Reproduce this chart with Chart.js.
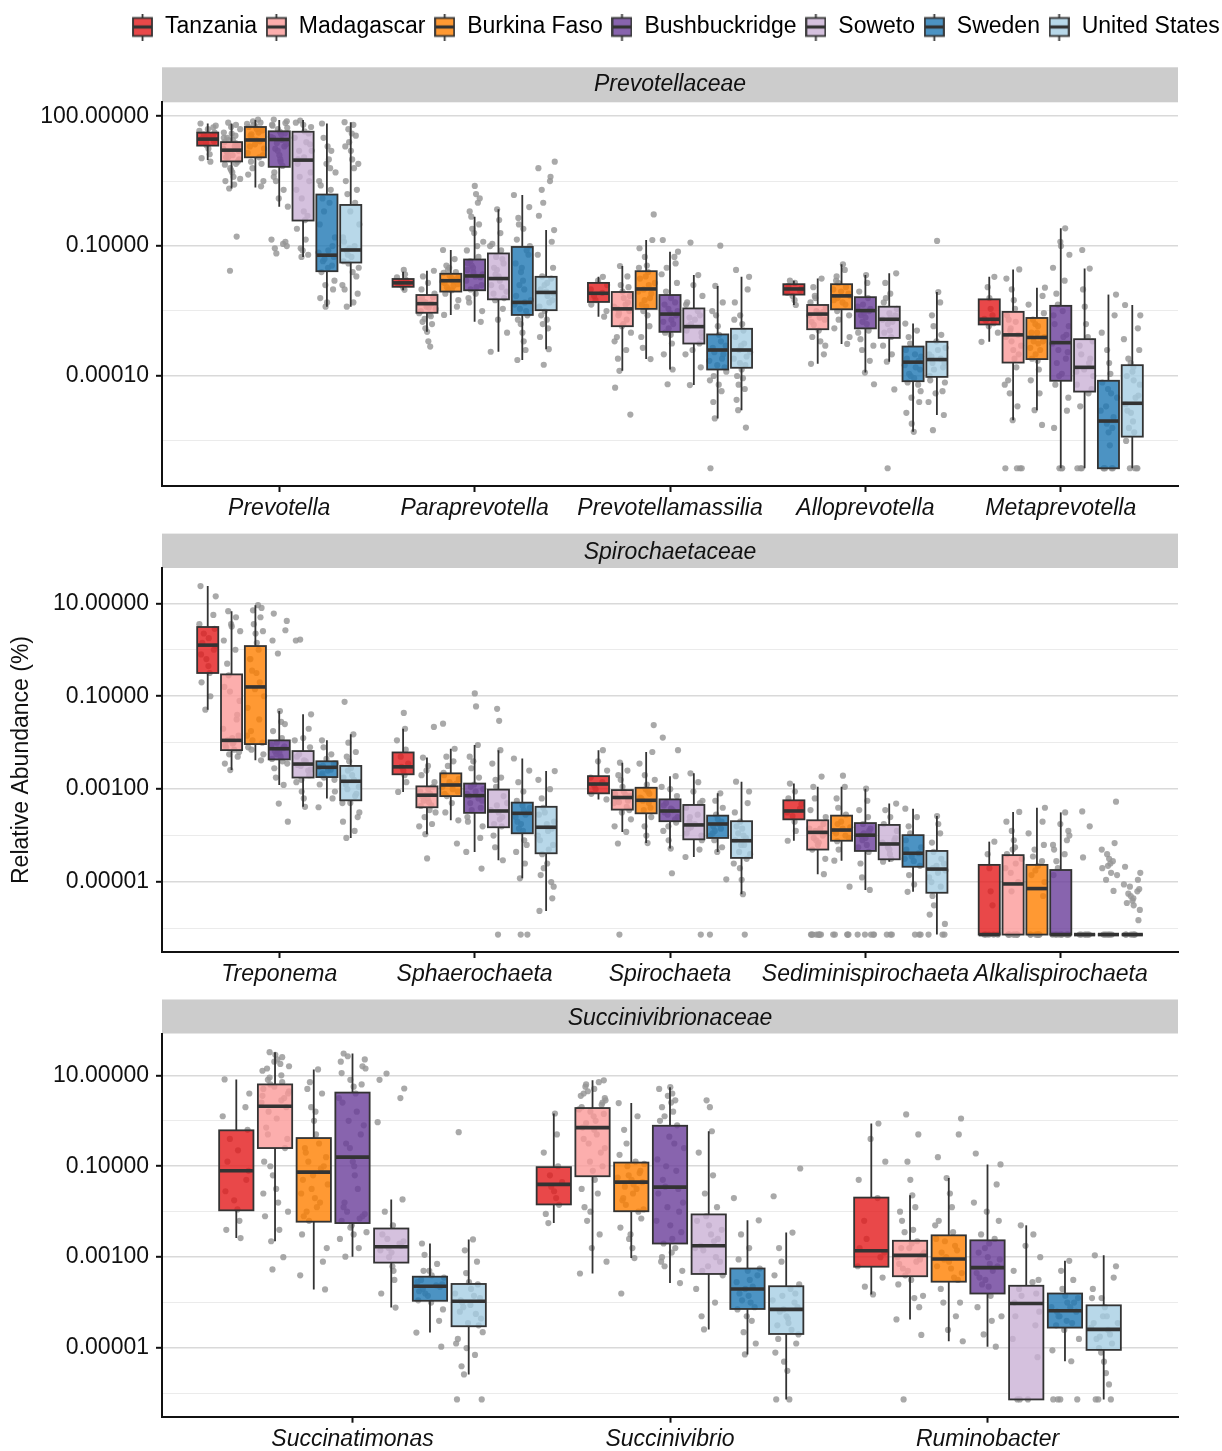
<!DOCTYPE html>
<html>
<head>
<meta charset="utf-8">
<script src="https://cdn.jsdelivr.net/npm/chart.js@4.4.1/dist/chart.umd.min.js"></script>
<style>
  html, body { margin: 0; padding: 0; background: #fff; width: 1222px; height: 1451px; overflow: hidden; position: relative; }
  canvas { position: absolute; left: 0; }
</style>
</head>
<body>
<canvas id="prevChart" width="1228" height="527" style="top:0px"></canvas>
<canvas id="spiroChart" width="1222" height="466" style="top:527px"></canvas>
<canvas id="succChart" width="1222" height="458" style="top:993px"></canvas>
<script>
// ---- groups and colours ----
const COUNTRIES = ['Tanzania', 'Madagascar', 'Burkina Faso', 'Bushbuckridge', 'Soweto', 'Sweden', 'United States'];
const COLORS = ['#E31A1C', '#FB9A99', '#FF7F00', '#6A3D9A', '#CAB2D6', '#1F78B4', '#A6CEE3'];

// All abundances below are log10 of relative abundance (%).
// Z is the pseudocount level used for samples where the genus was absent.
const Z = -6.13;

// ---- Prevotellaceae ----
const prevGenera = ['Prevotella', 'Paraprevotella', 'Prevotellamassilia', 'Alloprevotella', 'Metaprevotella'];
const prevLo = [
  [0.99, 0.33, 0.35, -0.09, -1.25, -2.40, -2.40],
  [-2.02, -2.98, -2.59, -2.75, -3.44, -3.63, -3.38],
  [-2.63, -3.88, -3.61, -3.85, -4.21, -4.98, -4.79],
  [-2.36, -3.72, -3.26, -3.92, -3.67, -5.29, -4.90],
  [-3.21, -5.02, -4.79, Z, Z, Z, Z]
];
const prevQ1 = [
  [1.32, 0.955, 1.05, 0.83, -0.41, -1.58, -1.38],
  [-1.94, -2.54, -2.05, -2.02, -2.23, -2.59, -2.48],
  [-2.29, -2.85, -2.45, -2.98, -3.25, -3.85, -3.81],
  [-2.12, -2.92, -2.46, -2.90, -3.12, -4.12, -4.02],
  [-2.81, -3.69, -3.61, -4.11, -4.36, Z, -5.40]
];
const prevMed = [
  [1.47, 1.215, 1.45, 1.46, 0.985, -1.21, -1.09],
  [-1.85, -2.33, -1.80, -1.69, -1.75, -2.30, -2.07],
  [-2.09, -2.45, -1.99, -2.57, -2.86, -3.40, -3.40],
  [-1.99, -2.57, -2.15, -2.49, -2.69, -3.68, -3.62],
  [-2.69, -3.05, -3.11, -3.23, -3.80, -5.04, -4.63]
];
const prevQ3 = [
  [1.62, 1.40, 1.75, 1.65, 1.64, 0.19, -0.05],
  [-1.76, -2.13, -1.64, -1.31, -1.17, -1.02, -1.71],
  [-1.85, -2.06, -1.58, -2.13, -2.44, -3.04, -2.91],
  [-1.88, -2.36, -1.88, -2.18, -2.40, -3.32, -3.21],
  [-2.23, -2.52, -2.66, -2.38, -3.15, -4.11, -3.75]
];
const prevHi = [
  [1.83, 1.83, 1.91, 1.91, 1.91, 1.83, 1.86],
  [-1.59, -1.57, -1.09, -0.32, -0.15, 0.18, -0.63],
  [-1.71, -1.46, -0.86, -1.13, -1.67, -1.92, -1.71],
  [-1.80, -1.75, -1.42, -1.67, -1.63, -2.79, -2.06],
  [-1.71, -1.54, -1.96, -0.59, -1.52, -2.12, -2.36]
];
const prevPts = [
  [
    [1.83, 1.78, 1.74, 1.66, 1.62, 1.58, 1.53, 1.49, 1.46, 1.42, 1.38, 1.33, 1.25, 1.12, 1.03, 0.95, 1.5, 1.56, 1.4, 1.7],
    [1.85, 1.8, 1.75, 1.7, 1.62, 1.55, 1.5, 1.45, 1.4, 1.35, 1.3, 1.25, 1.2, 1.15, 1.1, 1.05, 1.0, 0.95, 0.88, 0.8, 0.7, 0.6, 0.5, 0.42, 0.33, -0.78, -1.57, 1.6, 1.45, 1.3, 1.18, 1.05, 0.9, 0.75, 0.55, 1.5, 1.38],
    [1.92, 1.88, 1.85, 1.8, 1.76, 1.7, 1.62, 1.55, 1.48, 1.42, 1.35, 1.25, 1.15, 1.05, 0.95, 0.8, 0.65, 0.5, 0.38, 1.82, 1.67, 1.58, 1.45, 1.3, 1.1, 0.9, 1.75],
    [1.92, 1.88, 1.84, 1.78, 1.7, 1.64, 1.58, 1.5, 1.45, 1.38, 1.3, 1.2, 1.1, 0.95, 0.85, 0.7, 0.5, 0.3, 0.1, -0.09, -0.85, -0.95, -1.05, -1.17, 1.8, 1.73, 1.6, 1.52, 1.35, 1.25, 1.0, 0.6, -1.0, -0.9],
    [1.9, 1.85, 1.75, 1.6, 1.5, 1.35, 1.2, 1.05, 0.9, 0.7, 0.5, 0.3, 0.1, -0.2, -0.4, -0.6, -0.85, -1.05, -1.2, -1.25, 1.8, 1.65, 1.4, 1.0, 0.6, -0.3, -1.1, 1.2],
    [1.83, 1.5, 1.2, 0.9, 0.7, 0.5, 0.3, 0.1, -0.2, -0.5, -0.8, -1.0, -1.15, -1.25, -1.35, -1.5, -1.6, -1.8, -2.0, -2.2, -2.4, 1.3, 1.0, 0.4, 0.0, -1.3, -1.45, -1.9, -2.3, -1.1, 0.8],
    [1.86, 1.8, 1.7, 1.55, 1.4, 1.2, 1.0, 0.8, 0.5, 0.2, 0.0, -0.2, -0.5, -0.8, -1.0, -1.1, -1.2, -1.35, -1.5, -1.7, -1.9, -2.1, -2.4, 1.6, 1.3, 0.9, 0.3, -0.9, -1.05, -1.25, -1.6, -2.0, -2.3, -1.4]
  ],
  [
    [-1.55, -1.65, -1.72, -1.78, -1.83, -1.86, -1.9, -1.96, -2.01, -1.8, -1.88],
    [-1.57, -1.7, -1.85, -2.0, -2.1, -2.18, -2.25, -2.3, -2.36, -2.42, -2.5, -2.58, -2.68, -2.8, -2.9, -2.98, -3.2, -3.32, -2.2, -2.28, -2.33, -2.4, -2.45, -2.55, -2.62, -2.75],
    [-1.09, -1.3, -1.45, -1.55, -1.62, -1.7, -1.76, -1.82, -1.88, -1.95, -2.02, -2.1, -2.25, -2.4, -2.59, -1.68, -1.74, -1.8, -1.85, -1.92, -2.0, -1.6, -1.5],
    [0.39, 0.2, 0.0, -0.2, -0.32, -0.5, -0.7, -0.9, -1.1, -1.25, -1.35, -1.45, -1.55, -1.65, -1.72, -1.8, -1.9, -2.0, -2.1, -2.3, -2.5, -2.75, -1.4, -1.6, -1.7, -1.95, -2.2, -1.0, -0.6, 0.1, -1.5],
    [-0.15, -0.4, -0.7, -0.95, -1.1, -1.25, -1.4, -1.55, -1.7, -1.8, -1.95, -2.1, -2.25, -2.45, -2.7, -3.0, -3.44, -1.3, -1.5, -1.65, -1.9, -2.05, -2.2, -1.0],
    [0.18, -0.1, -0.35, -0.6, -0.85, -1.0, -1.2, -1.4, -1.6, -1.8, -2.0, -2.15, -2.3, -2.45, -2.6, -2.8, -3.0, -3.2, -3.4, -3.63, -0.5, -1.1, -1.5, -2.25, -2.35, -2.5, -2.7, -1.9],
    [0.95, 0.8, 0.5, 0.3, 0.0, -0.3, -0.63, -0.9, -1.2, -1.5, -1.7, -1.85, -2.0, -2.1, -2.25, -2.4, -2.5, -2.7, -2.9, -3.1, -3.38, -3.74, -1.75, -1.9, -2.05, -2.15, -2.3, -2.6, -2.8, 0.6]
  ],
  [
    [-1.71, -1.8, -1.9, -2.0, -2.08, -2.15, -2.25, -2.35, -2.5, -2.63],
    [-1.46, -1.7, -1.9, -2.05, -2.2, -2.35, -2.45, -2.55, -2.7, -2.85, -3.0, -3.2, -3.4, -3.6, -3.88, -4.27, -4.89, -2.3, -2.4, -2.5, -2.6, -2.8, -3.1, -2.15, -1.95],
    [-0.27, -0.86, -1.05, -1.25, -1.45, -1.6, -1.75, -1.9, -2.0, -2.1, -2.25, -2.4, -2.6, -2.85, -3.1, -3.35, -3.61, -1.7, -1.85, -2.05, -2.2, -2.35, -2.5, -1.5],
    [-0.86, -1.13, -1.4, -1.65, -1.85, -2.05, -2.2, -2.35, -2.5, -2.6, -2.75, -2.9, -3.05, -3.25, -3.5, -3.85, -4.19, -2.3, -2.45, -2.55, -2.7, -2.8, -3.0, -1.5, -1.25],
    [-0.92, -1.67, -1.9, -2.15, -2.35, -2.5, -2.65, -2.8, -2.95, -3.1, -3.25, -3.5, -3.8, -4.21, -2.7, -2.85, -3.0, -2.6, -2.3, -3.4],
    [-0.99, -1.92, -2.3, -2.6, -2.85, -3.05, -3.2, -3.35, -3.45, -3.6, -3.75, -3.9, -4.1, -4.35, -4.6, -4.98, Z, -3.3, -3.5, -3.65, -3.8, -4.0, -4.2, -2.5],
    [-1.55, -1.71, -2.0, -2.3, -2.6, -2.8, -2.95, -3.1, -3.25, -3.4, -3.55, -3.7, -3.85, -4.05, -4.3, -4.55, -4.79, -5.19, -3.3, -3.45, -3.6, -3.75, -4.0, -4.2, -2.7]
  ],
  [
    [-1.8, -1.85, -1.92, -1.98, -2.03, -2.08, -2.15, -2.25, -2.36],
    [-1.75, -1.95, -2.15, -2.3, -2.42, -2.52, -2.6, -2.7, -2.82, -2.95, -3.1, -3.3, -3.5, -3.72, -2.5, -2.55, -2.65, -2.75, -3.2, -2.2],
    [-1.42, -1.55, -1.7, -1.85, -1.95, -2.05, -2.15, -2.25, -2.35, -2.5, -2.7, -2.9, -3.1, -3.26, -2.0, -2.1, -2.2, -2.3, -1.8, -2.6],
    [-1.67, -1.85, -2.05, -2.2, -2.35, -2.45, -2.55, -2.65, -2.8, -2.95, -3.15, -3.4, -3.65, -3.92, -4.19, -2.4, -2.5, -2.6, -2.75, -3.0, -3.3],
    [-1.63, -1.85, -2.1, -2.3, -2.45, -2.6, -2.7, -2.8, -2.95, -3.1, -3.3, -3.5, -3.67, -4.31, Z, -2.55, -2.65, -2.75, -3.0, -2.2],
    [-2.79, -2.95, -3.1, -3.25, -3.4, -3.55, -3.65, -3.75, -3.85, -3.95, -4.05, -4.15, -4.35, -4.6, -4.85, -5.1, -5.29, -3.5, -3.6, -3.8, -4.0, -4.2, -4.5],
    [-0.88, -2.06, -2.3, -2.6, -2.85, -3.05, -3.2, -3.35, -3.5, -3.6, -3.7, -3.85, -4.0, -4.15, -4.35, -4.6, -4.9, -5.25, -3.4, -3.55, -3.7, -3.8, -4.1, -4.4]
  ],
  [
    [-1.71, -1.95, -2.2, -2.45, -2.6, -2.68, -2.72, -2.78, -2.85, -3.0, -3.21],
    [-1.54, -1.75, -2.0, -2.25, -2.45, -2.6, -2.75, -2.9, -3.05, -3.2, -3.4, -3.6, -3.8, -4.1, -4.4, -4.7, -5.02, Z, Z, Z, -2.7, -2.95, -3.1, -3.3, -3.5, -4.2, Z],
    [-1.96, -2.15, -2.35, -2.55, -2.7, -2.85, -3.0, -3.1, -3.2, -3.35, -3.5, -3.65, -3.85, -4.1, -4.4, -4.79, -5.13, -2.8, -3.0, -3.25, -3.4, -3.6, -3.2],
    [-0.59, -0.9, -1.2, -1.5, -1.8, -2.1, -2.35, -2.6, -2.85, -3.05, -3.25, -3.45, -3.7, -3.95, -4.2, -4.5, -4.8, -5.2, Z, Z, -2.5, -2.8, -3.1, -3.4, -3.6, -4.0, -1.0, Z],
    [-1.09, -1.52, -2.0, -2.4, -2.8, -3.1, -3.3, -3.5, -3.7, -3.85, -4.0, -4.2, -4.4, -4.7, Z, Z, -3.2, -3.6, -3.9, -4.3, Z],
    [-2.12, -2.6, -3.0, -3.4, -3.7, -3.95, -4.15, -4.4, -4.7, -4.95, -5.1, -5.3, -5.6, Z, Z, Z, Z, -4.3, -4.5, -4.8, -5.2, Z],
    [-2.36, -2.6, -2.9, -3.15, -3.4, -3.6, -3.8, -4.0, -4.2, -4.45, -4.65, -4.85, -5.05, -5.3, -5.5, Z, Z, Z, -3.7, -3.9, -4.1, -4.5, -4.8, -5.2, Z]
  ]
];

// ---- Spirochaetaceae ----
const spiroGenera = ['Treponema', 'Sphaerochaeta', 'Spirochaeta', 'Sediminispirochaeta', 'Alkalispirochaeta'];
const spiroLo = [
  [-1.29, -2.59, -2.38, -2.91, -3.38, -3.20, -4.05],
  [-3.06, -3.97, -3.67, -4.35, -4.53, -4.92, -5.62],
  [-3.22, -3.92, -4.16, -4.28, -4.46, -4.35, -5.26],
  [-4.11, -4.83, -4.54, -5.17, -4.56, -5.21, Z],
  [Z, Z, Z, Z, Z, Z, Z]
];
const spiroQ1 = [
  [-0.50, -2.16, -2.03, -2.36, -2.75, -2.74, -3.24],
  [-2.68, -3.39, -3.15, -3.51, -3.82, -3.95, -4.38],
  [-3.09, -3.44, -3.52, -3.69, -4.08, -4.05, -4.48],
  [-3.65, -4.30, -4.11, -4.33, -4.51, -4.67, -5.23],
  [Z, Z, Z, Z, Z, Z, Z]
];
const spiroMed = [
  [0.10, -1.95, -0.80, -2.13, -2.46, -2.53, -2.83],
  [-2.52, -3.13, -2.91, -3.14, -3.47, -3.52, -3.82],
  [-2.89, -3.18, -3.24, -3.47, -3.77, -3.75, -4.11],
  [-3.47, -3.93, -3.88, -3.99, -4.18, -4.38, -4.72],
  [Z, -5.04, -5.14, Z, Z, Z, Z]
];
const spiroQ3 = [
  [0.49, -0.53, 0.08, -1.95, -2.18, -2.40, -2.50],
  [-2.21, -2.94, -2.66, -2.88, -3.01, -3.29, -3.38],
  [-2.72, -3.02, -2.97, -3.22, -3.34, -3.57, -3.69],
  [-3.24, -3.67, -3.57, -3.73, -3.77, -3.99, -4.33],
  [-4.63, -4.42, -4.63, -4.74, Z, Z, Z]
];
const spiroHi = [
  [1.37, 0.83, 0.96, -1.32, -1.39, -1.95, -1.82],
  [-1.70, -2.32, -2.13, -2.05, -2.16, -2.34, -2.61],
  [-2.16, -2.43, -2.20, -2.72, -2.66, -3.09, -2.84],
  [-2.88, -2.95, -2.95, -2.99, -3.31, -3.42, -3.58],
  [-4.13, -3.49, -3.40, -3.50, Z, Z, Z]
];
const spiroPts = [
  [
    [1.37, 1.15, 0.75, 0.55, 0.45, 0.35, 0.25, 0.15, 0.08, 0.0, -0.1, -0.2, -0.35, -0.5, -0.7, -1.0, -1.29],
    [0.83, 0.7, 0.55, 0.4, 0.2, 0.0, -0.3, -0.55, -0.8, -1.1, -1.4, -1.7, -1.85, -1.95, -2.02, -2.1, -2.2, -2.3, -2.45, -2.59, -1.9, -2.0, -2.05, -2.15, -2.25, -1.5, -0.9, 0.5],
    [0.96, 0.85, 0.7, 0.55, 0.35, 0.15, 0.0, -0.2, -0.45, -0.7, -0.85, -1.0, -1.25, -1.5, -1.75, -1.95, -2.1, -2.25, -2.38, -1.85, -2.0, -2.15, -0.5, -0.2, 0.4, 0.9],
    [0.78, 0.62, 0.42, 0.2, -0.08, -1.32, -1.55, -1.75, -1.9, -2.0, -2.08, -2.15, -2.22, -2.3, -2.4, -2.55, -2.75, -2.91, -3.31, -3.7, -2.05, -2.12, -2.18, -2.25, -2.35, -2.45, -1.6],
    [0.22, 0.2, -1.39, -1.7, -1.95, -2.1, -2.25, -2.38, -2.48, -2.58, -2.7, -2.85, -3.05, -3.2, -3.38, -2.3, -2.4, -2.5, -2.6, -2.8, -1.9],
    [-1.95, -2.1, -2.25, -2.35, -2.45, -2.52, -2.58, -2.66, -2.75, -2.9, -3.05, -3.2, -3.39, -2.45, -2.5, -2.6, -2.7, -2.8],
    [-1.12, -1.82, -2.0, -2.2, -2.4, -2.55, -2.7, -2.8, -2.9, -3.0, -3.15, -3.3, -3.5, -3.7, -3.9, -4.05, -2.6, -2.75, -2.95, -3.1, -3.3, -3.6, -2.3]
  ],
  [
    [-1.36, -1.7, -1.95, -2.15, -2.3, -2.45, -2.52, -2.6, -2.7, -2.85, -3.06],
    [-1.66, -2.32, -2.5, -2.7, -2.85, -2.95, -3.05, -3.12, -3.2, -3.28, -3.36, -3.45, -3.6, -3.75, -3.97, -4.49, -3.0, -3.1, -3.15, -3.25, -3.35, -2.6, -3.5, -3.8],
    [-1.59, -2.13, -2.3, -2.5, -2.65, -2.78, -2.88, -2.95, -3.05, -3.15, -3.3, -3.5, -3.67, -4.17, -2.7, -2.85, -2.9, -3.0, -3.1, -2.4],
    [-0.94, -1.22, -2.05, -2.3, -2.55, -2.75, -2.9, -3.0, -3.1, -3.2, -3.3, -3.45, -3.6, -3.8, -4.05, -4.35, -4.71, -2.95, -3.05, -3.15, -3.25, -3.4, -3.7, -2.4],
    [-1.27, -1.53, -2.16, -2.45, -2.75, -2.95, -3.15, -3.35, -3.5, -3.65, -3.8, -4.0, -4.25, -4.53, Z, -3.3, -3.45, -3.6, -3.75, -2.8],
    [-2.34, -2.6, -2.85, -3.05, -3.25, -3.4, -3.5, -3.6, -3.75, -3.9, -4.1, -4.35, -4.6, -4.92, Z, Z, -3.35, -3.45, -3.55, -3.7, -3.85, -4.2],
    [-2.61, -2.8, -3.0, -3.2, -3.4, -3.55, -3.7, -3.85, -4.0, -4.2, -4.4, -4.6, -4.85, -5.1, -5.35, -5.62, -3.5, -3.75, -3.9, -4.1, -4.3, -4.7, -5.0]
  ],
  [
    [-2.16, -2.4, -2.6, -2.75, -2.85, -2.92, -3.0, -3.1, -3.22],
    [-2.43, -2.6, -2.8, -2.95, -3.05, -3.12, -3.2, -3.28, -3.38, -3.5, -3.65, -3.8, -3.92, -4.17, Z, -3.1, -3.15, -3.25, -3.3, -3.45, -2.7],
    [-1.62, -2.2, -2.45, -2.7, -2.9, -3.05, -3.18, -3.3, -3.45, -3.6, -3.8, -4.0, -4.16, -3.1, -3.2, -3.25, -3.4, -3.0, -2.8],
    [-1.89, -2.16, -2.72, -2.95, -3.15, -3.3, -3.42, -3.5, -3.6, -3.72, -3.9, -4.1, -4.28, -4.81, -3.35, -3.45, -3.55, -3.65, -3.8, -3.0],
    [-2.66, -2.85, -3.05, -3.25, -3.4, -3.55, -3.7, -3.82, -3.95, -4.1, -4.3, -4.46, Z, -3.6, -3.75, -3.85, -4.0, -3.3],
    [-3.09, -3.25, -3.4, -3.55, -3.65, -3.75, -3.85, -3.95, -4.1, -4.25, -4.35, -4.94, Z, -3.7, -3.8, -3.9, -4.0],
    [-2.84, -3.05, -3.3, -3.5, -3.7, -3.85, -4.0, -4.1, -4.2, -4.35, -4.5, -4.7, -4.95, -5.26, Z, -3.8, -3.95, -4.05, -4.2, -4.4, -4.6]
  ],
  [
    [-2.88, -3.05, -3.2, -3.32, -3.42, -3.5, -3.58, -3.7, -3.9, -4.11],
    [-2.73, -2.95, -3.2, -3.45, -3.6, -3.75, -3.85, -3.95, -4.05, -4.15, -4.3, -4.5, -4.83, Z, Z, Z, Z, Z, -3.85, -3.9, -4.0, -4.1, -4.2, Z, Z, Z],
    [-2.71, -2.95, -3.2, -3.4, -3.55, -3.7, -3.82, -3.9, -4.0, -4.12, -4.3, -4.54, -5.1, Z, Z, Z, -3.75, -3.85, -3.95, -4.05, Z, Z],
    [-2.99, -3.25, -3.45, -3.6, -3.75, -3.85, -3.95, -4.05, -4.2, -4.35, -4.6, -4.9, -5.17, Z, Z, Z, -3.9, -4.0, -4.1, -4.25, Z, Z],
    [-3.31, -3.45, -3.6, -3.75, -3.9, -4.05, -4.15, -4.25, -4.4, -4.5, -4.56, Z, Z, -4.1, -4.2, -4.3, Z],
    [-3.42, -3.6, -3.8, -3.95, -4.1, -4.25, -4.38, -4.5, -4.65, -4.85, -5.05, -5.21, Z, Z, -4.3, -4.45, -4.55, Z],
    [-3.58, -3.75, -3.95, -4.15, -4.35, -4.5, -4.65, -4.75, -4.9, -5.1, -5.3, -5.5, -5.7, -5.9, Z, Z, -4.6, -4.7, -4.8, -5.0, Z]
  ],
  [
    [-4.13, -4.4, -4.7, -5.2, -5.5, Z, Z, Z, Z, Z],
    [-3.49, -3.7, -3.9, -4.1, -4.25, -4.4, -4.6, -4.8, -5.0, -5.2, Z, Z, Z, Z, Z, Z, -4.3, -4.5, -4.7, Z, Z],
    [-3.4, -3.7, -3.95, -4.2, -4.45, -4.65, -4.85, -5.0, -5.3, Z, Z, Z, Z, Z, Z, -4.3, -4.55, -4.75, Z, Z],
    [-3.5, -3.75, -4.0, -4.2, -4.4, -4.55, -4.7, -4.85, Z, Z, Z, Z, Z, Z, Z, -3.9, -4.1, -4.3, Z, Z],
    [-3.48, -3.8, -4.47, Z, Z, Z, Z, Z, Z],
    [-3.27, -4.16, -4.3, -4.4, -4.5, -4.6, -4.7, -4.8, -4.95, -5.19, Z, Z, Z, Z, Z, Z, -4.55, -4.65, -4.85],
    [-4.67, -4.8, -4.95, -5.05, -5.15, -5.25, -5.35, -5.45, -5.6, -5.82, Z, Z, Z, Z, Z, Z, -5.1, -5.2, -5.3, -5.4, -5.5]
  ]
];

// ---- Succinivibrionaceae ----
const succGenera = ['Succinatimonas', 'Succinivibrio', 'Ruminobacter'];
const succLo = [
  [-2.58, -2.65, -3.71, -2.99, -4.11, -4.66, -5.58],
  [-2.25, -3.36, -3.02, -3.57, -4.59, -5.14, Z],
  [-3.82, -4.37, -4.85, -4.97, Z, -5.29, Z]
];
const succQ1 = [
  [-1.97, -0.60, -2.22, -2.25, -3.12, -3.96, -4.52],
  [-1.84, -1.22, -1.99, -2.70, -3.37, -4.14, -4.69],
  [-3.21, -3.42, -3.54, -3.80, Z, -4.55, -5.04]
];
const succMed = [
  [-1.10, 0.32, -1.13, -0.80, -2.77, -3.64, -3.97],
  [-1.40, -0.15, -1.35, -1.46, -2.75, -3.70, -4.15],
  [-2.86, -2.96, -3.04, -3.23, -4.02, -4.18, -4.59]
];
const succQ3 = [
  [-0.21, 0.80, -0.38, 0.62, -2.37, -3.43, -3.59],
  [-1.02, 0.28, -0.92, -0.11, -2.06, -3.25, -3.64],
  [-1.69, -2.64, -2.52, -2.63, -3.63, -3.80, -4.06]
];
const succHi = [
  [0.91, 1.51, 1.13, 1.48, -1.73, -2.70, -2.61],
  [0.16, 0.89, 0.39, 0.74, -0.23, -2.19, -2.46],
  [-0.06, -1.64, -1.26, -0.96, -2.30, -3.08, -2.96]
];
const succPts = [
  [
    [0.91, 0.6, 0.3, 0.1, -0.2, -0.4, -0.65, -0.9, -1.1, -1.3, -1.55, -1.75, -1.95, -2.2, -2.4, -2.58],
    [1.51, 1.4, 1.3, 1.2, 1.1, 1.0, 0.9, 0.8, 0.7, 0.6, 0.5, 0.4, 0.3, 0.2, 0.05, -0.15, -0.4, -0.6, -0.9, -1.2, -1.5, -1.8, -2.1, -2.4, -2.65, -3.0, -3.27, 1.45, 1.35, 1.25, 1.15, 0.95, 0.85, 0.75, 0.65, 0.55, 0.45, -0.3, -1.0, -1.6, -2.0],
    [1.13, 0.85, 0.6, 0.3, 0.0, -0.3, -0.5, -0.7, -0.9, -1.05, -1.2, -1.4, -1.6, -1.8, -2.0, -2.2, -2.5, -2.8, -3.1, -3.4, -3.71, 0.7, 0.2, -0.6, -0.8, -1.0, -1.3, -1.5, -1.7, -1.9, -2.1],
    [1.48, 1.35, 1.2, 1.05, 0.9, 0.75, 0.6, 0.4, 0.2, 0.0, -0.3, -0.6, -0.9, -1.2, -1.5, -1.8, -2.0, -2.15, -2.3, -2.45, -2.6, -2.8, -2.99, 1.42, 1.3, 1.15, 0.8, 0.5, -0.1, -0.5, -1.0, -1.9, -2.05, -2.1, -2.2, -2.35, -2.5],
    [1.04, 0.9, 0.71, 0.5, -0.03, -1.73, -2.0, -2.3, -2.5, -2.65, -2.75, -2.85, -3.0, -3.2, -3.5, -3.8, -4.11, -2.6, -2.7, -2.8, -2.9, -3.3],
    [-2.7, -2.95, -3.15, -3.3, -3.45, -3.55, -3.62, -3.7, -3.8, -3.95, -4.15, -4.4, -4.66, -4.97, -3.3, -3.4, -3.5, -3.6, -3.65, -3.75, -3.85, -4.0],
    [-0.25, -2.61, -2.85, -3.1, -3.35, -3.55, -3.7, -3.85, -3.95, -4.1, -4.25, -4.45, -4.65, -4.9, -5.15, -5.4, -5.58, Z, Z, -3.6, -3.8, -3.9, -4.0, -4.05, -4.2, -4.35, -4.5, -4.8, -5.0]
  ],
  [
    [0.16, -0.3, -0.7, -1.0, -1.2, -1.35, -1.45, -1.55, -1.7, -1.85, -2.05, -2.25],
    [0.89, 0.8, 0.7, 0.6, 0.5, 0.4, 0.3, 0.2, 0.1, 0.0, -0.15, -0.3, -0.5, -0.7, -0.9, -1.1, -1.3, -1.6, -1.9, -2.2, -2.5, -2.8, -3.1, -3.36, 0.85, 0.75, 0.65, 0.55, 0.45, 0.35, 0.25, 0.15, -0.05, -0.2, -0.4, -0.6, -1.0, -1.5, -2.0],
    [0.39, 0.1, -0.2, -0.5, -0.75, -0.95, -1.1, -1.25, -1.35, -1.45, -1.6, -1.75, -1.95, -2.15, -2.35, -2.6, -2.8, -3.02, -3.8, -0.9, -1.0, -1.15, -1.2, -1.3, -1.4, -1.5, -1.7, -1.85, -2.0, -2.5],
    [0.74, 0.6, 0.45, 0.3, 0.1, -0.1, -0.35, -0.6, -0.85, -1.1, -1.3, -1.45, -1.6, -1.8, -2.0, -2.2, -2.45, -2.7, -2.9, -3.1, -3.3, -3.57, 0.7, 0.55, 0.4, 0.2, 0.0, -0.5, -1.0, -1.5, -1.9, -2.3, -2.6, -2.8, -3.0, -3.2],
    [0.45, 0.3, -0.23, -0.7, -1.2, -1.6, -1.9, -2.1, -2.3, -2.5, -2.65, -2.75, -2.85, -3.0, -3.2, -3.4, -3.7, -4.0, -4.3, -4.59, -2.2, -2.4, -2.6, -2.8, -3.1, -3.3],
    [-1.7, -2.19, -2.5, -2.8, -3.05, -3.25, -3.4, -3.55, -3.7, -3.85, -4.0, -4.15, -4.4, -4.65, -4.9, -5.14, -3.3, -3.5, -3.65, -3.8, -3.95, -4.1, -4.3],
    [-1.05, -1.66, -2.46, -2.8, -3.1, -3.4, -3.6, -3.8, -3.95, -4.1, -4.2, -4.35, -4.5, -4.7, -4.9, -5.1, -5.3, -5.5, Z, Z, -3.7, -3.85, -4.0, -4.15, -4.3, -4.45, -4.6, -4.8]
  ],
  [
    [-0.06, -0.4, -0.9, -1.3, -1.7, -2.2, -2.6, -2.8, -2.9, -3.0, -3.2, -3.45, -3.65, -3.82],
    [0.14, -0.3, -0.9, -1.3, -1.64, -1.9, -2.2, -2.45, -2.65, -2.8, -2.9, -3.0, -3.1, -3.25, -3.4, -3.6, -3.85, -4.1, -4.37, -4.71, Z, -2.7, -2.8, -2.95, -3.05, -3.15, -3.3, -3.5, -2.4, -2.0, -3.9],
    [0.05, -0.3, -0.8, -1.26, -1.6, -1.9, -2.2, -2.45, -2.65, -2.85, -3.0, -3.1, -3.25, -3.45, -3.7, -4.0, -4.3, -4.6, -4.85, -2.6, -2.75, -2.9, -3.05, -3.2, -3.35, -3.5, -2.3, -4.0],
    [-0.72, -0.96, -1.4, -1.8, -2.2, -2.5, -2.7, -2.9, -3.05, -3.2, -3.35, -3.5, -3.65, -3.85, -4.1, -4.4, -4.7, -4.97, -2.8, -3.0, -3.15, -3.3, -3.45, -3.6, -2.6, -2.0, -4.3],
    [-2.3, -2.5, -2.75, -3.0, -3.3, -3.55, -3.7, -3.85, -4.0, -4.2, -4.5, -4.8, -5.2, Z, Z, Z, -3.5, -3.8, -4.3],
    [-3.08, -3.3, -3.5, -3.7, -3.85, -4.0, -4.1, -4.2, -4.3, -4.45, -4.6, -4.8, -5.05, -5.29, Z, Z, Z, -3.9, -4.0, -4.1, -4.2, -4.3, -4.4, -4.5, Z],
    [-2.96, -3.2, -3.45, -3.7, -3.9, -4.1, -4.3, -4.45, -4.6, -4.75, -4.9, -5.1, -5.3, -5.55, -5.8, Z, Z, Z, -4.3, -4.45, -4.55, -4.7, -4.8, -5.0, -3.9]
  ]
];

// y tick positions (log10 %); majors are labelled, minors only get a faint grid line
const prevTicks = [-5.5, -4, -2.5, -1, 0.5, 2];
const prevMajor = [-4, -1, 2];
const spiroTicks = [-6, -5, -4, -3, -2, -1, 0, 1];
const spiroMajor = [-5, -3, -1, 1];
const succTicks = [-6, -5, -4, -3, -2, -1, 0, 1];
const succMajor = [-5, -3, -1, 1];

// ---- drawing ----
Chart.defaults.font.family = "'Liberation Sans', Arial, Helvetica, sans-serif";
Chart.defaults.color = '#111';

const SLOT = 0.122;     // dodge step between countries (x units)
const BOXW = 0.108;     // box width (x units)
const JIT_AMP = 0.045;  // horizontal jitter half-range (x units)
const JITTER = [-0.82, 0.37, -0.15, 0.91, -0.56, 0.08, 0.64, -0.38, 0.22, -0.95, 0.5, -0.7, 0.79, -0.05, 0.3,
                -0.45, 0.98, -0.27, 0.12, -0.88, 0.58, -0.62, 0.44, -0.18, 0.86, -0.5, 0.02, 0.7, -0.33, 0.16, -0.76];
const LINE = '#333333';
const BOX_ALPHA = 0.8;

function boxGlyph(color) {
  const c = document.createElement('canvas');
  c.width = 21; c.height = 27;
  const g = c.getContext('2d');
  g.strokeStyle = LINE; g.lineWidth = 1.8;
  g.beginPath(); g.moveTo(10.5, 0); g.lineTo(10.5, 27); g.stroke();
  g.fillStyle = '#fff'; g.fillRect(1, 4.5, 19, 18);
  g.globalAlpha = BOX_ALPHA; g.fillStyle = color; g.fillRect(1, 4.5, 19, 18); g.globalAlpha = 1;
  g.strokeRect(1, 4.5, 19, 18);
  g.lineWidth = 3.2; g.beginPath(); g.moveTo(1, 13.5); g.lineTo(20, 13.5); g.stroke();
  return c;
}

function stripPlugin(h) {
  return {
    id: 'facetStrip',
    beforeDraw(chart) {
      const a = chart.chartArea, ctx = chart.ctx;
      ctx.save();
      ctx.fillStyle = '#cccccc';
      ctx.fillRect(a.left, a.top - h, a.right - a.left, h);
      ctx.restore();
    }
  };
}

function boxPlugin(f) {
  return {
    id: 'boxes',
    afterDatasetsDraw(chart) {
      const xs = chart.scales.x, ys = chart.scales.y, ctx = chart.ctx;
      const half = (xs.getPixelForValue(BOXW) - xs.getPixelForValue(0)) / 2;
      const py = v => ys.getPixelForValue(Math.pow(10, v));
      ctx.save();
      f.genera.forEach((name, g) => {
        COUNTRIES.forEach((country, k) => {
          const cx = xs.getPixelForValue(g + 1 + (k - 3) * SLOT);
          const yLo = py(f.lo[g][k]), yQ1 = py(f.q1[g][k]), yMed = py(f.med[g][k]);
          const yQ3 = py(f.q3[g][k]), yHi = py(f.hi[g][k]);
          ctx.strokeStyle = LINE;
          ctx.lineWidth = 1.8;
          ctx.beginPath();
          ctx.moveTo(cx, yHi); ctx.lineTo(cx, yQ3);
          ctx.moveTo(cx, yQ1); ctx.lineTo(cx, yLo);
          ctx.stroke();
          ctx.globalAlpha = BOX_ALPHA;
          ctx.fillStyle = COLORS[k];
          ctx.fillRect(cx - half, yQ3, 2 * half, yQ1 - yQ3);
          ctx.globalAlpha = 1;
          ctx.strokeRect(cx - half, yQ3, 2 * half, yQ1 - yQ3);
          ctx.lineWidth = 3.6;
          ctx.beginPath(); ctx.moveTo(cx - half, yMed); ctx.lineTo(cx + half, yMed); ctx.stroke();
        });
      });
      ctx.restore();
    }
  };
}

function facetChart(id, f) {
  const points = [];
  f.pts.forEach((row, g) => row.forEach((list, k) => list.forEach((v, j) => {
    const jit = JITTER[(j * 3 + k * 7 + g * 5) % JITTER.length] * JIT_AMP;
    points.push({ x: g + 1 + (k - 3) * SLOT + jit, y: Math.pow(10, v) });
  })));

  const isMajor = v => f.majors.some(m => Math.abs(m - v) < 1e-9);

  const scales = {
    x: {
      type: 'linear', min: 0.4, max: f.genera.length + 0.6, bounds: 'data',
      afterBuildTicks: s => { s.ticks = f.genera.map((_, i) => ({ value: i + 1 })); },
      afterFit: s => { s.height = f.xHeight; },
      ticks: {
        callback: (v, i) => f.genera[i],
        font: { size: 23, style: 'italic' }, color: '#111', padding: 3,
        autoSkip: false, maxRotation: 0, minRotation: 0
      },
      grid: { drawOnChartArea: false, drawTicks: true, tickLength: 6, tickColor: '#111', tickWidth: 2 },
      border: { display: true, color: '#111', width: 2 }
    },
    y: {
      type: 'logarithmic', min: Math.pow(10, f.yMin), max: Math.pow(10, f.yMax), bounds: 'data',
      afterBuildTicks: s => { s.ticks = f.ticks.map(t => ({ value: Math.pow(10, t), isMajor: isMajor(t) })); },
      afterFit: s => { s.width = 162; },
      ticks: {
        callback: (v, i, ticks) => ticks[i].isMajor ? Number(ticks[i].value).toFixed(5) : '',
        font: { size: 23 }, color: '#111', padding: 7, autoSkip: false
      },
      grid: {
        color: c => (c.tick && c.tick.isMajor) ? '#d9d9d9' : '#ebebeb',
        lineWidth: c => (c.tick && c.tick.isMajor) ? 1.6 : 1.1,
        tickLength: 6,
        tickColor: c => (c.tick && c.tick.isMajor) ? '#111' : 'rgba(0,0,0,0)',
        tickWidth: 2
      },
      border: { display: true, color: '#111', width: 2 },
      title: f.yTitle
        ? { display: true, text: f.yTitle, font: { size: 23 }, color: '#111', padding: { top: 8, bottom: 0 } }
        : { display: false }
    }
  };
  if (f.rightSpace) {
    scales.r = {
      type: 'linear', position: 'right', display: true,
      grid: { display: false, drawTicks: false }, ticks: { display: false }, border: { display: false },
      afterFit: s => { s.width = f.rightSpace; }
    };
  }

  const legend = f.legend ? {
    display: true, position: 'top', align: 'end', weight: 3000,
    labels: {
      usePointStyle: true, pointStyleWidth: 22, padding: 8.25,
      font: { size: 23 }, color: '#111',
      generateLabels: () => COUNTRIES.map((c, i) => ({
        text: c, pointStyle: boxGlyph(COLORS[i]), fillStyle: COLORS[i],
        strokeStyle: LINE, lineWidth: 0, hidden: false, datasetIndex: 0
      }))
    }
  } : { display: false };

  return new Chart(document.getElementById(id), {
    type: 'scatter',
    data: {
      datasets: [{
        data: points,
        pointRadius: 3.1, pointHoverRadius: 3.1,
        backgroundColor: 'rgba(150,150,150,0.82)', borderWidth: 0
      }]
    },
    options: {
      responsive: false, animation: false, events: [],
      layout: { padding: { top: f.padTop, right: f.padRight, left: 0, bottom: 0 } },
      plugins: {
        legend,
        tooltip: { enabled: false },
        title: {
          display: true, text: f.family, fullSize: false, color: '#111',
          font: { size: 23, style: 'italic', weight: 'normal' },
          padding: { top: f.titleTop, bottom: f.titleBottom }
        }
      },
      scales
    },
    plugins: [stripPlugin(f.stripH), boxPlugin(f)]
  });
}

facetChart('prevChart', {
  family: 'Prevotellaceae', genera: prevGenera,
  lo: prevLo, q1: prevQ1, med: prevMed, q3: prevQ3, hi: prevHi, pts: prevPts,
  ticks: prevTicks, majors: prevMajor, yMin: -6.54, yMax: 2.32,
  legend: true, padTop: 7.25, padRight: 0, rightSpace: 50,
  titleTop: 22.7, titleBottom: 3.5, stripH: 35, xHeight: 41
});
facetChart('spiroChart', {
  family: 'Spirochaetaceae', genera: spiroGenera,
  lo: spiroLo, q1: spiroQ1, med: spiroMed, q3: spiroQ3, hi: spiroHi, pts: spiroPts,
  ticks: spiroTicks, majors: spiroMajor, yMin: -6.505, yMax: 1.76,
  yTitle: 'Relative Abundance (%)',
  legend: false, padTop: 0, padRight: 44,
  titleTop: 11.5, titleBottom: 1.9, stripH: 34.4, xHeight: 41
});
facetChart('succChart', {
  family: 'Succinivibrionaceae', genera: succGenera,
  lo: succLo, q1: succQ1, med: succMed, q3: succQ3, hi: succHi, pts: succPts,
  ticks: succTicks, majors: succMajor, yMin: -6.51, yMax: 1.92,
  legend: false, padTop: 0, padRight: 44,
  titleTop: 11.5, titleBottom: 1.4, stripH: 34, xHeight: 34.3
});
</script>
</body>
</html>
